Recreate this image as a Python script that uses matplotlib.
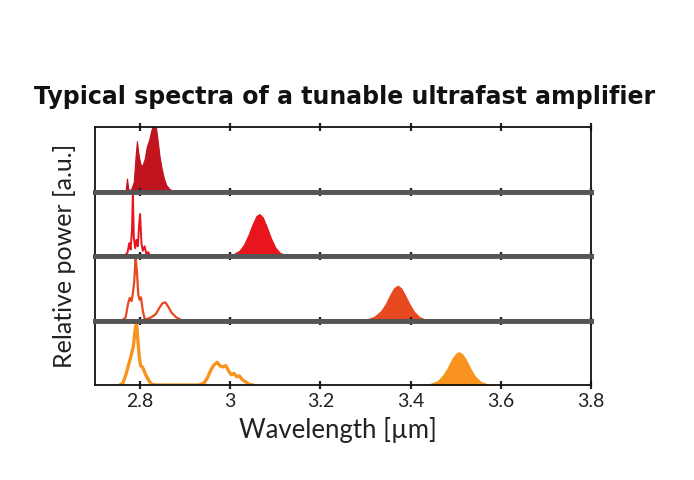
import matplotlib.pyplot as plt

plt.rcParams['font.family'] = ['Lato', 'DejaVu Sans']

# x axis
XLIM = (2.7, 3.8)
XTICKS = [2.8, 3.0, 3.2, 3.4, 3.6, 3.8]
XTICK_LABELS = ['2.8', '3', '3.2', '3.4', '3.6', '3.8']

# panel 1 - dark red, one filled spectrum
wl1 = [2.760, 2.768, 2.771, 2.774, 2.780, 2.786, 2.790, 2.793, 2.797, 2.801, 2.805,
       2.810, 2.815, 2.820, 2.825, 2.830, 2.834, 2.838, 2.843, 2.848, 2.853, 2.858,
       2.865, 2.872, 2.880]
p1 = [0, 0.02, 0.2, 0.03, 0.03, 0.15, 0.55, 0.78, 0.55, 0.42, 0.40,
      0.5, 0.7, 0.8, 0.95, 1.05, 1.05, 0.85, 0.55, 0.35, 0.2, 0.1,
      0.04, 0.01, 0]

# panel 2 - red
wl2_main = [2.990, 3.005, 3.020, 3.030, 3.040, 3.050, 3.058, 3.065, 3.072, 3.080,
            3.090, 3.100, 3.110, 3.125, 3.140]
p2_main = [0, 0.02, 0.08, 0.17, 0.32, 0.5, 0.62, 0.65, 0.6, 0.47,
           0.28, 0.13, 0.05, 0.01, 0]
wl2_side = [2.765, 2.772, 2.776, 2.779, 2.782, 2.784, 2.786, 2.789, 2.792, 2.795,
            2.798, 2.800, 2.803, 2.806, 2.810, 2.814, 2.818, 2.822]
p2_side = [0, 0.05, 0.2, 0.1, 0.4, 0.98, 0.3, 0.12, 0.25, 0.15,
           0.5, 0.65, 0.2, 0.08, 0.15, 0.03, 0.06, 0]

# panel 3 - orange red
wl3_main = [3.290, 3.305, 3.320, 3.335, 3.345, 3.355, 3.363, 3.371, 3.379, 3.387,
            3.397, 3.407, 3.420, 3.435, 3.450]
p3_main = [0, 0.02, 0.06, 0.15, 0.26, 0.4, 0.5, 0.54, 0.5, 0.4,
           0.26, 0.14, 0.05, 0.01, 0]
wl3_side = [2.760, 2.768, 2.773, 2.777, 2.781, 2.784, 2.787, 2.790, 2.793, 2.796,
            2.799, 2.802, 2.806, 2.810, 2.815, 2.825, 2.835, 2.843, 2.850, 2.856,
            2.862, 2.870, 2.880, 2.890, 2.900]
p3_side = [0, 0.05, 0.25, 0.35, 0.3, 0.42, 0.6, 0.98, 0.75, 0.4,
           0.32, 0.36, 0.15, 0.03, 0.02, 0.05, 0.1, 0.2, 0.27, 0.28,
           0.22, 0.12, 0.05, 0.01, 0]

# panel 4 - orange
wl4_main = [3.430, 3.445, 3.460, 3.472, 3.482, 3.492, 3.500, 3.507, 3.514, 3.522,
            3.532, 3.542, 3.555, 3.570, 3.585]
p4_main = [0, 0.02, 0.06, 0.15, 0.26, 0.4, 0.48, 0.51, 0.48, 0.4,
           0.26, 0.14, 0.05, 0.01, 0]
wl4_side = [2.755, 2.762, 2.768, 2.774, 2.780, 2.785, 2.789, 2.792, 2.795, 2.798,
            2.801, 2.805, 2.809, 2.813, 2.817, 2.821, 2.826, 2.835, 2.930, 2.942,
            2.950, 2.958, 2.965, 2.971, 2.977, 2.983, 2.990, 2.996, 3.002, 3.008,
            3.014, 3.020, 3.027, 3.034, 3.042, 3.050]
p4_side = [0, 0.03, 0.15, 0.3, 0.45, 0.6, 0.85, 0.97, 0.7, 0.45,
           0.3, 0.28, 0.22, 0.15, 0.1, 0.05, 0.01, 0, 0, 0.03,
           0.12, 0.25, 0.32, 0.35, 0.3, 0.28, 0.3, 0.22, 0.16, 0.18,
           0.13, 0.14, 0.08, 0.05, 0.01, 0]

COLORS = ['#c0141f', '#e8151c', '#e8481f', '#f7931e']

fig = plt.figure(figsize=(6.94, 4.8), dpi=100)

left, width = 95 / 694, 496 / 694
top, bottom = 1 - 127 / 480, 1 - 385 / 480
ph = (top - bottom) / 4

axes = []
for i in range(4):
    ax = fig.add_axes([left, top - (i + 1) * ph, width, ph])
    ax.set_xlim(*XLIM)
    ax.set_ylim(0, 1.0)
    ax.set_yticks([])
    ax.set_xticks(XTICKS)
    ax.set_xticklabels(XTICK_LABELS)
    ax.tick_params(axis='x', direction='inout', length=6, width=1.6, top=True,
                   bottom=True, labelbottom=(i == 3), labelsize=14, pad=3,
                   color='#222222', labelcolor='#222222')
    for s in ['left', 'right']:
        ax.spines[s].set_linewidth(1.3)
        ax.spines[s].set_color('#111111')
    ax.spines['top'].set_linewidth(1.3 if i == 0 else 3.5)
    ax.spines['top'].set_color('#111111' if i == 0 else '#555555')
    ax.spines['bottom'].set_linewidth(1.3 if i == 3 else 3.5)
    ax.spines['bottom'].set_color('#111111' if i == 3 else '#555555')
    axes.append(ax)

ax1, ax2, ax3, ax4 = axes

ax1.fill_between(wl1, p1, color=COLORS[0], lw=0.8, edgecolor=COLORS[0])

ax2.fill_between(wl2_main, p2_main, color=COLORS[1], lw=0.8, edgecolor=COLORS[1])
ax2.plot(wl2_side, p2_side, color=COLORS[1], lw=1.4)

ax3.fill_between(wl3_main, p3_main, color=COLORS[2], lw=0.8, edgecolor=COLORS[2])
ax3.plot(wl3_side, p3_side, color=COLORS[2], lw=1.6)

ax4.fill_between(wl4_main, p4_main, color=COLORS[3], lw=0.8, edgecolor=COLORS[3])
ax4.plot(wl4_side, p4_side, color=COLORS[3], lw=2.4)

fig.text(0.497, 0.798, 'Typical spectra of a tunable ultrafast amplifier',
         ha='center', va='center', fontsize=17, fontweight='bold', color='#111111',
         family='DejaVu Sans')
fig.text(338 / 694, 1 - 430 / 480, 'Wavelength [µm]', ha='center', va='center',
         fontsize=18.5, color='#222222')
fig.text(65 / 694, 1 - 256 / 480, 'Relative power [a.u.]', ha='center', va='center',
         rotation=90, fontsize=18, color='#222222')

fig.savefig('out.png', dpi=100)
